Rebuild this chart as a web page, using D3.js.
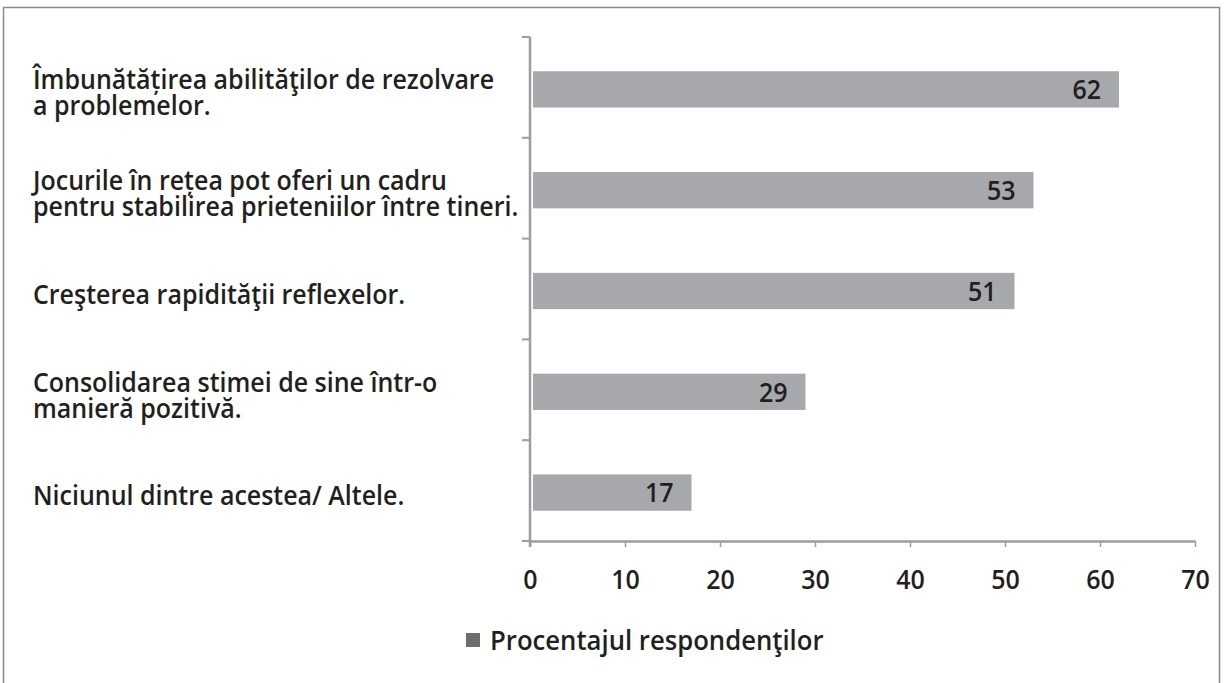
<!DOCTYPE html>
<html>
<head>
<meta charset="utf-8">
<script src="https://cdn.jsdelivr.net/npm/d3@7"></script>
<style>
  html, body { margin: 0; padding: 0; background: #fff; }
  svg { display: block; }
  text { font-family: "Open Sans", "Lato", sans-serif; font-weight: 600; fill: #231f20; }
</style>
</head>
<body>
<svg id="chart" width="1225" height="683"></svg>
<script>
// Answers, top to bottom; each entry is the list of lines of its label
const categories = [
  ["Îmbunătățirea abilităţilor de rezolvare", "a problemelor."],
  ["Jocurile în rețea pot oferi un cadru", "pentru stabilirea prieteniilor între tineri."],
  ["Creşterea rapidităţii reflexelor."],
  ["Consolidarea stimei de sine într-o", "manieră pozitivă."],
  ["Niciunul dintre acestea/ Altele."]
];
const values = [62, 53, 51, 29, 17];
const xTicks = [0, 10, 20, 30, 40, 50, 60, 70];
const seriesName = "Procentajul respondenţilor";

const svg = d3.select("#chart");
const W = 1225, H = 683;

// type is set slightly tall and narrow
const fontSize = 25;
const stretchY = 1.08;

// outer frame (open at the bottom)
svg.append("path")
  .attr("d", `M3.5,${H} V7.5 H1219.5 V${H}`)
  .attr("fill", "none")
  .attr("stroke", "#8a8a8a")
  .attr("stroke-width", 1.5);

const plot = { left: 530, right: 1195, top: 37, bottom: 541 };

const x = d3.scaleLinear().domain([0, 70]).range([plot.left, plot.right]);
const y = d3.scaleBand()
  .domain(d3.range(categories.length))
  .range([plot.top, plot.bottom])
  .paddingInner(0.64)
  .paddingOuter(0.32);
const barMid = i => y(i) + 2 + y.bandwidth() / 2;

const axisColor = "#9d9d9f";

// bars
svg.append("g").selectAll("rect")
  .data(values)
  .join("rect")
  .attr("x", x(0) + 3)
  .attr("y", (d, i) => y(i) + 2)
  .attr("width", d => x(d) - x(0) - 3)
  .attr("height", y.bandwidth())
  .attr("fill", "#a7a8ab");

// value labels inside bar ends
svg.append("g").selectAll("text")
  .data(values)
  .join("text")
  .attr("transform", (d, i) => `translate(${x(d) - 18},${barMid(i)}) scale(1,${stretchY})`)
  .attr("dy", "0.36em")
  .attr("text-anchor", "end")
  .style("font-size", fontSize + "px")
  .text(d => d);

// x axis
const xAxis = svg.append("g")
  .attr("transform", `translate(0,${plot.bottom})`)
  .call(d3.axisBottom(x).tickValues(xTicks).tickSize(6).tickSizeOuter(0));
xAxis.select(".domain").attr("stroke", axisColor).attr("stroke-width", 2.5);
xAxis.selectAll(".tick line").attr("stroke", axisColor).attr("stroke-width", 1.5);
xAxis.selectAll(".tick text")
  .attr("y", null)
  .attr("dy", "0.36em")
  .attr("transform", `translate(0,38) scale(1,${stretchY})`)
  .style("font-size", fontSize + "px")
  .style("font-family", "'Open Sans', Lato, sans-serif")
  .style("font-weight", 600)
  .attr("fill", "#231f20");

// y axis: line with ticks on category boundaries
const boundaries = d3.range(categories.length + 1).map(i =>
  plot.top + i * (plot.bottom - plot.top) / categories.length);
const yAxis = svg.append("g");
yAxis.append("line")
  .attr("x1", plot.left).attr("x2", plot.left)
  .attr("y1", plot.top).attr("y2", plot.bottom + 6)
  .attr("stroke", axisColor).attr("stroke-width", 2.5);
yAxis.selectAll("line.tk")
  .data(boundaries)
  .join("line")
  .attr("class", "tk")
  .attr("x1", plot.left - 8).attr("x2", plot.left)
  .attr("y1", d => d).attr("y2", d => d)
  .attr("stroke", axisColor).attr("stroke-width", 2);

// category labels, centred on their bar
const lineH = 26 / stretchY;
const labels = svg.append("g").selectAll("text")
  .data(categories)
  .join("text")
  .attr("transform", (d, i) => `translate(33,${barMid(i) + 3}) scale(1,${stretchY})`)
  .style("font-size", fontSize + "px");
labels.selectAll("tspan")
  .data((d) => d.map((line, j) => ({ line, j, n: d.length })))
  .join("tspan")
  .attr("x", 0)
  .attr("y", d => (d.j - (d.n - 1) / 2) * lineH)
  .attr("dy", "0.36em")
  .text(d => d.line);

// legend
const legend = svg.append("g").attr("transform", "translate(466,640)");
legend.append("rect")
  .attr("x", 0).attr("y", -7).attr("width", 14).attr("height", 14)
  .attr("fill", "#6d6e71");
legend.append("text")
  .attr("transform", `translate(24,0) scale(1,${stretchY})`)
  .attr("dy", "0.36em")
  .style("font-size", "25.7px")
  .text(seriesName);
</script>
</body>
</html>
